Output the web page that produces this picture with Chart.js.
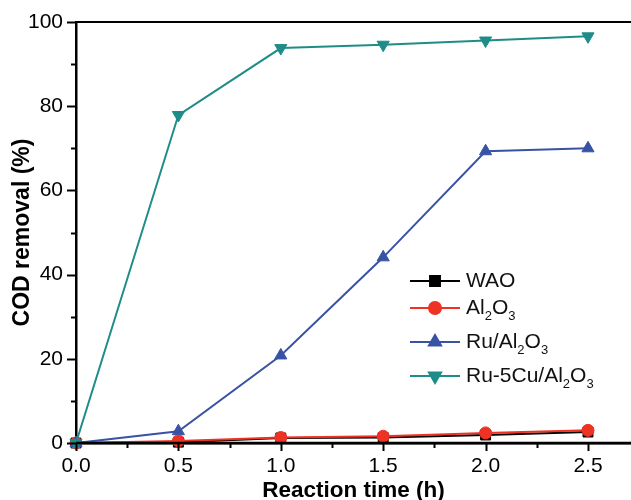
<!DOCTYPE html>
<html>
<head>
<meta charset="utf-8">
<script src="https://cdn.jsdelivr.net/npm/chart.js@4/dist/chart.umd.min.js"></script>
<style>
  body { margin: 0; background: #fff; }
  #wrap { width: 631px; height: 500px; }
</style>
</head>
<body>
<div id="wrap"><canvas id="chart"></canvas></div>
<script>
// data
const times = [0, 0.5, 1.0, 1.5, 2.0, 2.5];
const wao = [0, 0.2, 1.2, 1.3, 1.9, 2.6];
const al2o3 = [0, 0.5, 1.3, 1.6, 2.4, 3.0];
const ruAl2o3 = [0, 2.8, 20.8, 44.1, 69.3, 70.0];
const ruCuAl2o3 = [0, 77.9, 93.8, 94.6, 95.6, 96.6];

const seriesNames = ["WAO", "Al2O3", "Ru/Al2O3", "Ru-5Cu/Al2O3"];
const xTicks = [0, 0.5, 1.0, 1.5, 2.0, 2.5];
const yTicks = [0, 20, 40, 60, 80, 100];

const colors = ["#000000", "#ee3224", "#3953a4", "#1e8c88"];
const shapes = ["rect", "circle", "triangle", "triangle"];
const rotations = [0, 0, 0, 180];
const radii = [7, 6, 7, 7];

const FONT = "'Liberation Sans', Arial, sans-serif";

const toPoints = (ys) => ys.map((y, i) => ({ x: times[i], y: y }));

// draw "Al2O3" style text with subscripts
function drawFormula(ctx, text, x, y, size) {
  const parts = text.split(/(?<=[A-Za-z])(\d)/);
  ctx.textBaseline = "middle";
  ctx.textAlign = "left";
  parts.forEach((p, i) => {
    if (!p) return;
    if (i % 2 === 1) {
      ctx.font = Math.round(size * 0.62) + "px " + FONT;
      ctx.fillText(p, x, y + size * 0.38);
    } else {
      ctx.font = size + "px " + FONT;
      ctx.fillText(p, x, y);
    }
    x += ctx.measureText(p).width;
  });
  return x;
}

const axisDecor = {
  id: "axisDecor",
  afterDraw(chart) {
    const ctx = chart.ctx;
    const area = chart.chartArea;
    const xs = chart.scales.x;
    const ys = chart.scales.y;
    ctx.save();
    ctx.strokeStyle = "#000";
    // top frame line, and bottom axis running off the right edge
    ctx.lineWidth = 2;
    ctx.beginPath();
    ctx.moveTo(area.left, area.top);
    ctx.lineTo(chart.width, area.top);
    ctx.stroke();
    ctx.lineWidth = 2.5;
    ctx.beginPath();
    ctx.moveTo(area.left, area.bottom);
    ctx.lineTo(chart.width, area.bottom);
    ctx.stroke();

    ctx.lineWidth = 2;
    // y ticks (major + minor, outward)
    for (let v = 0; v <= 100; v += 10) {
      const py = Math.round(ys.getPixelForValue(v)) + 0.5;
      const len = v % 20 === 0 ? 9 : 5;
      ctx.beginPath();
      ctx.moveTo(area.left, py);
      ctx.lineTo(area.left - len, py);
      ctx.stroke();
    }
    // x ticks
    for (let v = 0; v <= 2.5001; v += 0.25) {
      const px = Math.round(xs.getPixelForValue(v)) + 0.5;
      const len = Math.abs(v / 0.5 - Math.round(v / 0.5)) < 1e-6 ? 8 : 5;
      ctx.beginPath();
      ctx.moveTo(px, area.bottom);
      ctx.lineTo(px, area.bottom + len);
      ctx.stroke();
    }

    // legend with subscripts
    let ly = 281;
    seriesNames.forEach((name, i) => {
      ctx.strokeStyle = colors[i];
      ctx.lineWidth = 2;
      ctx.beginPath();
      ctx.moveTo(410, ly);
      ctx.lineTo(460, ly);
      ctx.stroke();
      Chart.helpers.drawPoint(ctx, {
        pointStyle: shapes[i],
        radius: radii[i],
        rotation: rotations[i],
        borderWidth: 1
      }, 435, ly);
      ctx.fillStyle = colors[i];
      ctx.fill();
      ctx.fillStyle = "#111";
      drawFormula(ctx, name, 466, ly, 21);
      ly += /\d$/.test(name) ? 34 : 27;
    });
    ctx.restore();
  }
};

const datasets = [wao, al2o3, ruAl2o3, ruCuAl2o3].map((vals, i) => ({
  label: seriesNames[i],
  data: toPoints(vals),
  borderColor: colors[i],
  backgroundColor: colors[i],
  borderWidth: 2,
  pointStyle: shapes[i],
  pointRotation: rotations[i],
  pointRadius: radii[i],
  pointBackgroundColor: colors[i],
  pointBorderColor: colors[i],
  pointBorderWidth: 1,
  tension: 0,
  clip: false,
  order: [4, 3, 2, 1][i]
}));

new Chart(document.getElementById("chart").getContext("2d"), {
  type: "line",
  data: { datasets: datasets },
  options: {
    responsive: true,
    maintainAspectRatio: false,
    animation: false,
    layout: { autoPadding: false, padding: { top: 22, right: 0, bottom: 0, left: 0 } },
    plugins: {
      legend: { display: false },
      tooltip: { enabled: false }
    },
    scales: {
      x: {
        type: "linear",
        min: 0,
        max: 2.71,
        afterFit: (scale) => {
          scale.height = 57;
          scale.paddingRight = 0;
          scale.paddingLeft = 0;
        },
        afterBuildTicks: (scale) => { scale.ticks = xTicks.map((v) => ({ value: v })); },
        grid: { display: false, drawTicks: false },
        border: { display: true, color: "#000", width: 2.5 },
        ticks: {
          padding: 11,
          color: "#000",
          font: { family: FONT, size: 21 },
          callback: (v) => v.toFixed(1)
        },
        title: {
          display: true,
          text: "Reaction time (h)",
          color: "#000",
          font: { family: FONT, size: 22.5, weight: "bold", lineHeight: 0.8 },
          padding: 0
        }
      },
      y: {
        min: 0,
        max: 100,
        afterFit: (scale) => {
          scale.width = 76;
          scale.paddingTop = 0;
          scale.paddingBottom = 0;
        },
        afterBuildTicks: (scale) => { scale.ticks = yTicks.map((v) => ({ value: v })); },
        grid: { display: false, drawTicks: false },
        border: { display: true, color: "#000", width: 2.5 },
        ticks: {
          padding: 13,
          color: "#000",
          font: { family: FONT, size: 21 }
        },
        title: {
          display: true,
          text: "COD removal (%)",
          color: "#000",
          font: { family: FONT, size: 23, weight: "bold" },
          padding: { top: 9, bottom: 0 }
        }
      }
    }
  },
  plugins: [axisDecor]
});
</script>
</body>
</html>
